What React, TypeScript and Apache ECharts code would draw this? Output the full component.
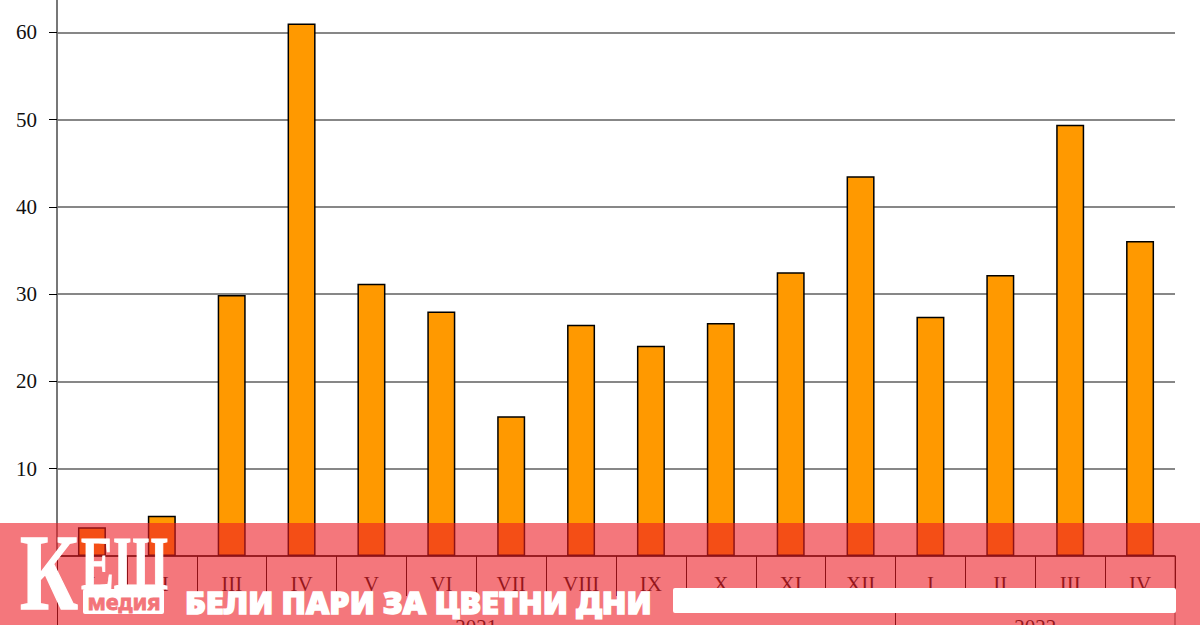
import React, { useEffect, useRef } from "react";
import * as echarts from "echarts";

const months = ["I", "II", "III", "IV", "V", "VI", "VII", "VIII", "IX", "X", "XI", "XII", "I", "II", "III", "IV"];
const values = [3.3, 4.6, 29.9, 61.0, 31.2, 28.0, 16.0, 26.5, 24.1, 26.7, 32.5, 43.5, 27.4, 32.2, 49.4, 36.1];
const yearLabels = ["2021", "2022"];
const yearMonthCounts = [12, 4];
const yMin = 0;
const yMax = 70;
const yStep = 10;

const boundaries: number[] = [0];
yearMonthCounts.forEach((c) => boundaries.push(boundaries[boundaries.length - 1] + c));
const centers = yearMonthCounts.map((c, i) => boundaries[i] + c / 2);
const total = boundaries[boundaries.length - 1];

const SERIF = '"Liberation Serif", "Times New Roman", serif';

export default function App() {
  const ref = useRef<HTMLDivElement>(null);
  useEffect(() => {
    document.body.style.margin = "0";
    const chart = echarts.init(ref.current as HTMLDivElement, null, { renderer: "svg" });
    chart.setOption({
      animation: false,
      backgroundColor: "#ffffff",
      grid: { left: 57, right: 25, top: -55, bottom: 69, containLabel: false, outerBoundsMode: "none" },
      xAxis: [
        {
          type: "category",
          data: months,
          boundaryGap: true,
          axisLine: { show: true, lineStyle: { color: "#000", width: 1.5 } },
          axisTick: { show: true, alignWithLabel: false, interval: 0, length: 40, lineStyle: { color: "#000", width: 1 } },
          axisLabel: { interval: 0, margin: 17, fontFamily: SERIF, fontSize: 21, color: "#111" },
          splitLine: { show: false },
          z: 3,
        },
        {
          type: "value",
          min: 0,
          max: total,
          position: "bottom",
          axisLine: { show: false },
          splitLine: { show: false },
          axisTick: { show: true, customValues: boundaries.slice(0, -1), length: 80, lineStyle: { color: "#000", width: 1 } },
          axisLabel: {
            show: true,
            customValues: centers,
            formatter: (v: number) => {
              const i = centers.indexOf(v);
              return i >= 0 ? yearLabels[i] : "";
            },
            margin: 60,
            fontFamily: SERIF,
            fontSize: 21,
            color: "#111",
          },
        },
        {
          type: "value",
          min: 0,
          max: total,
          position: "bottom",
          axisLine: { show: false },
          splitLine: { show: false },
          axisTick: { show: true, customValues: [total], length: 80, lineStyle: { color: "#8a8a8a", width: 1.5 } },
          axisLabel: { show: false },
        },
      ],
      yAxis: [
        {
          type: "value",
          min: yMin,
          max: yMax,
          interval: yStep,
          axisLine: { show: true, lineStyle: { color: "#000", width: 1.5 } },
          axisTick: { show: true, length: 8, lineStyle: { color: "#000", width: 1 } },
          axisLabel: { margin: 20, fontFamily: SERIF, fontSize: 21, color: "#111", showMinLabel: false },
          splitLine: { show: true, lineStyle: { color: "#5f5f5f", width: 1.5 } },
        },
        {
          type: "value",
          position: "right",
          min: yMin,
          max: yMax,
          interval: yStep,
          axisLine: { show: true, lineStyle: { color: "#8a8a8a", width: 1.5 } },
          axisTick: { show: false },
          axisLabel: { show: false },
          splitLine: { show: false },
        },
      ],
      series: [
        {
          type: "bar",
          xAxisIndex: 0,
          yAxisIndex: 0,
          data: values,
          barWidth: 28,
          itemStyle: { color: "#FF9900", borderColor: "#000", borderWidth: 1.5 },
        },
      ],
      graphic: [
        {
          type: "rect",
          z: 100,
          shape: { x: 0, y: 523, width: 1200, height: 102 },
          style: { fill: "rgba(237,28,36,0.6)" },
        },
        {
          type: "text",
          z: 101,
          x: 20,
          y: 573,
          scaleX: 0.74,
          style: {
            text: "К",
            fill: "#fff",
            stroke: "#fff",
            lineWidth: 1.5,
            font: 'bold 108px "Liberation Serif"',
            textAlign: "left",
            textVerticalAlign: "middle",
          },
        },
        {
          type: "text",
          z: 101,
          x: 81,
          y: 563,
          scaleX: 0.64,
          style: {
            text: "ЕШ",
            fill: "#fff",
            stroke: "#fff",
            lineWidth: 1,
            font: 'bold 77px "Liberation Serif"',
            textAlign: "left",
            textVerticalAlign: "middle",
          },
        },
        {
          type: "rect",
          z: 101,
          shape: { x: 83, y: 589, width: 81, height: 25, r: 2 },
          style: { fill: "#fff" },
        },
        {
          type: "text",
          z: 102,
          x: 124,
          y: 601,
          style: {
            text: "медия",
            fill: "#F37479",
            stroke: "#F37479",
            lineWidth: 0.8,
            font: 'bold 22px "Noto Sans"',
            textAlign: "center",
            textVerticalAlign: "middle",
          },
        },
        {
          type: "text",
          z: 101,
          x: 185,
          y: 602,
          scaleX: 1.07,
          style: {
            text: "БЕЛИ ПАРИ ЗА ЦВЕТНИ ДНИ",
            fill: "#fff",
            stroke: "#fff",
            lineWidth: 1.4,
            font: '900 30px "Noto Sans"',
            textAlign: "left",
            textVerticalAlign: "middle",
          },
        },
        {
          type: "rect",
          z: 101,
          shape: { x: 673, y: 588, width: 503, height: 25, r: 2 },
          style: { fill: "#fff" },
        },
      ],
    });
    return () => chart.dispose();
  }, []);
  return <div ref={ref} style={{ width: 1200, height: 625 }} />;
}
